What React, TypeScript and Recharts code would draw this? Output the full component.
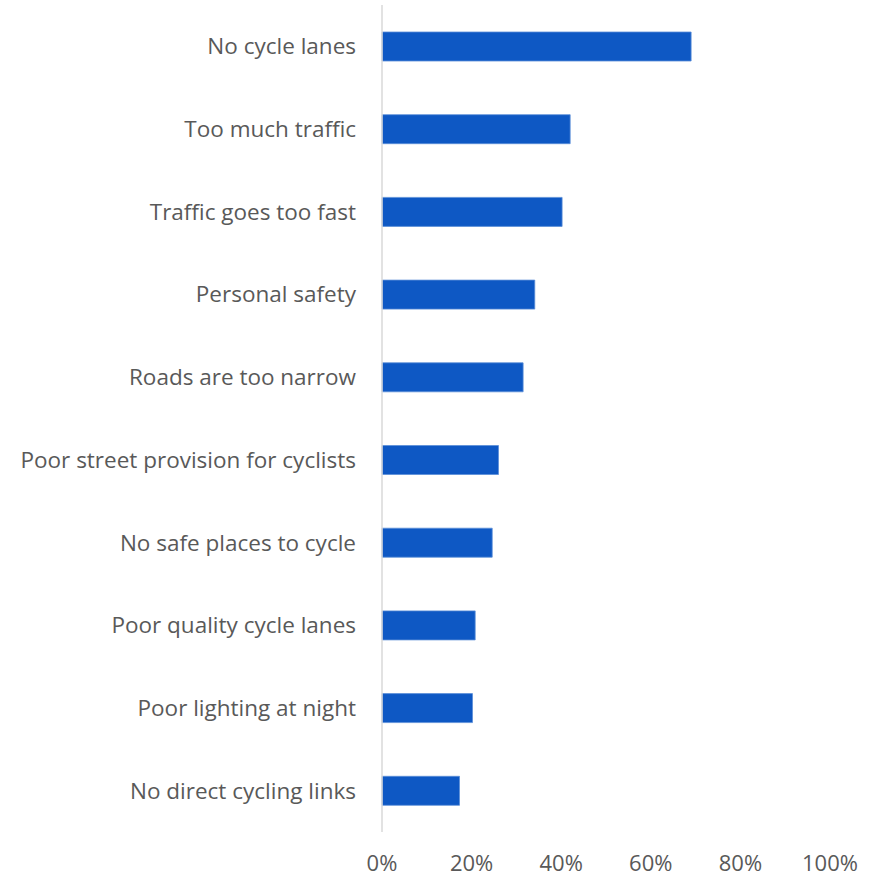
import { Bar, BarChart, XAxis, YAxis } from "recharts";

const CATEGORIES = [
  "No cycle lanes",
  "Too much traffic",
  "Traffic goes too fast",
  "Personal safety ",
  "Roads are too narrow",
  "Poor street provision for cyclists",
  "No safe places to cycle",
  "Poor quality cycle lanes",
  "Poor lighting at night",
  "No direct cycling links",
];

const SHARES = [0.69, 0.42, 0.402, 0.341, 0.315, 0.26, 0.246, 0.208, 0.202, 0.173];

const X_TICKS = [0, 0.2, 0.4, 0.6, 0.8, 1];

const FONT = "'Open Sans', sans-serif";
const TEXT = "#595959";

const data = CATEGORIES.map((name, i) => ({ name, value: SHARES[i] }));

export default function App() {
  return (
    <div style={{ position: "absolute", left: 0, top: 0 }}>
      <BarChart
        width={876}
        height={878}
        layout="vertical"
        data={data}
        barSize={29}
        margin={{ top: 5, right: 46, bottom: 0, left: 0 }}
      >
        <XAxis
          type="number"
          domain={[0, 1]}
          ticks={X_TICKS}
          tickFormatter={(v: number) => `${Math.round(v * 100)}%`}
          axisLine={false}
          tickLine={false}
          tickSize={0}
          tickMargin={23}
          height={46}
          tick={{ fill: TEXT, fontSize: 22, fontFamily: FONT }}
        />
        <YAxis
          type="category"
          dataKey="name"
          width={382}
          axisLine={{ stroke: "#d9d9d9", strokeWidth: 1.5 }}
          tickLine={false}
          tickSize={0}
          tickMargin={26}
          interval={0}
          tick={{ fill: TEXT, fontSize: 22.5, fontFamily: FONT }}
        />
        <Bar
          dataKey="value"
          fill="#0E58C4"
          stroke="#5A8ED8"
          strokeWidth={0.8}
          isAnimationActive={false}
        />
      </BarChart>
    </div>
  );
}
